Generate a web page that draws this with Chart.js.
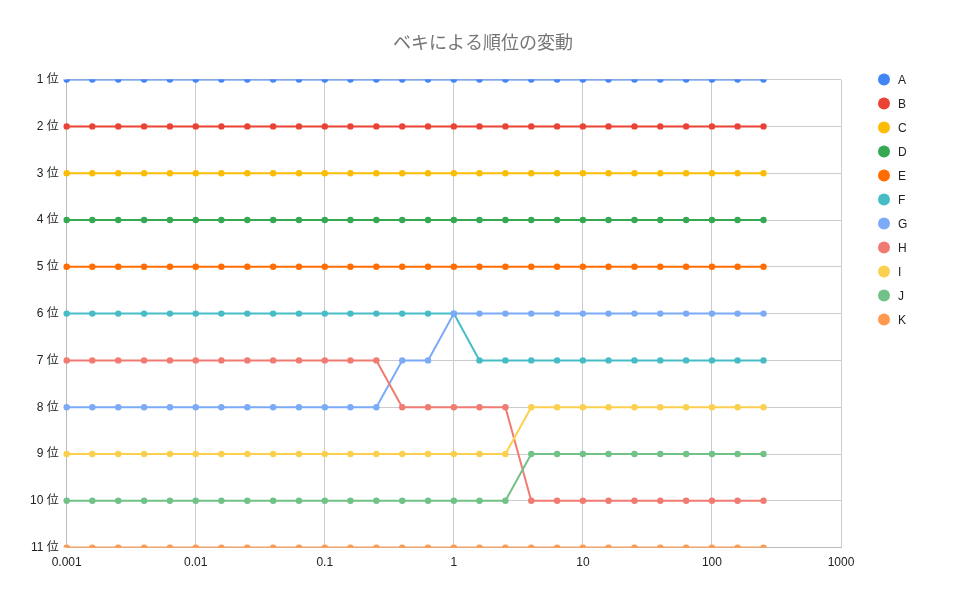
<!DOCTYPE html>
<html>
<head>
<meta charset="utf-8">
<script src="https://cdn.jsdelivr.net/npm/chart.js@4"></script>
<style>
  html, body { margin: 0; padding: 0; background: #fff; }
  #wrap { width: 966px; height: 598px; }
</style>
</head>
<body>
<div id="wrap"><canvas id="rankChart" width="966" height="598"></canvas></div>
<script>
(() => {
    // べき (x) の値
    const powers = [0.001, 0.00158, 0.00251, 0.00398, 0.00631, 0.01, 0.0158, 0.0251, 0.0398, 0.0631,
        0.1, 0.158, 0.251, 0.398, 0.631, 1, 1.58, 2.51, 3.98, 6.31,
        10, 15.8, 25.1, 39.8, 63.1, 100, 158, 251];
    const xTicks = [0.001, 0.01, 0.1, 1, 10, 100, 1000];
    const rankTicks = [1, 2, 3, 4, 5, 6, 7, 8, 9, 10, 11];

    const seriesNames = ["A", "B", "C", "D", "E", "F", "G", "H", "I", "J", "K"];
    const colors = ["#4285F4", "#EA4335", "#FBBC04", "#34A853", "#FF6D01", "#46BDC6",
        "#7BAAF7", "#F07B72", "#FCD04F", "#71C287", "#FF994D"];

    // 順位
    const rankA = [1, 1, 1, 1, 1, 1, 1, 1, 1, 1, 1, 1, 1, 1, 1, 1, 1, 1, 1, 1, 1, 1, 1, 1, 1, 1, 1, 1];
    const rankB = [2, 2, 2, 2, 2, 2, 2, 2, 2, 2, 2, 2, 2, 2, 2, 2, 2, 2, 2, 2, 2, 2, 2, 2, 2, 2, 2, 2];
    const rankC = [3, 3, 3, 3, 3, 3, 3, 3, 3, 3, 3, 3, 3, 3, 3, 3, 3, 3, 3, 3, 3, 3, 3, 3, 3, 3, 3, 3];
    const rankD = [4, 4, 4, 4, 4, 4, 4, 4, 4, 4, 4, 4, 4, 4, 4, 4, 4, 4, 4, 4, 4, 4, 4, 4, 4, 4, 4, 4];
    const rankE = [5, 5, 5, 5, 5, 5, 5, 5, 5, 5, 5, 5, 5, 5, 5, 5, 5, 5, 5, 5, 5, 5, 5, 5, 5, 5, 5, 5];
    const rankF = [6, 6, 6, 6, 6, 6, 6, 6, 6, 6, 6, 6, 6, 6, 6, 6, 7, 7, 7, 7, 7, 7, 7, 7, 7, 7, 7, 7];
    const rankG = [8, 8, 8, 8, 8, 8, 8, 8, 8, 8, 8, 8, 8, 7, 7, 6, 6, 6, 6, 6, 6, 6, 6, 6, 6, 6, 6, 6];
    const rankH = [7, 7, 7, 7, 7, 7, 7, 7, 7, 7, 7, 7, 7, 8, 8, 8, 8, 8, 10, 10, 10, 10, 10, 10, 10, 10, 10, 10];
    const rankI = [9, 9, 9, 9, 9, 9, 9, 9, 9, 9, 9, 9, 9, 9, 9, 9, 9, 9, 8, 8, 8, 8, 8, 8, 8, 8, 8, 8];
    const rankJ = [10, 10, 10, 10, 10, 10, 10, 10, 10, 10, 10, 10, 10, 10, 10, 10, 10, 10, 9, 9, 9, 9, 9, 9, 9, 9, 9, 9];
    const rankK = [11, 11, 11, 11, 11, 11, 11, 11, 11, 11, 11, 11, 11, 11, 11, 11, 11, 11, 11, 11, 11, 11, 11, 11, 11, 11, 11, 11];

    const allRanks = [rankA, rankB, rankC, rankD, rankE, rankF, rankG, rankH, rankI, rankJ, rankK];

    const FONT = "Arial, 'Liberation Sans', 'Noto Sans CJK JP', sans-serif";

    const datasets = allRanks.map((ranks, i) => ({
        label: seriesNames[i],
        data: powers.map((x, k) => ({ x, y: ranks[k] })),
        borderColor: colors[i],
        backgroundColor: colors[i],
        pointBackgroundColor: colors[i],
        pointBorderWidth: 0,
        pointRadius: 3.2,
        borderWidth: 2,
        tension: 0,
        // 上下だけプロット枠で切る
        clip: { left: 5, right: 5, top: 0, bottom: 0 },
        order: allRanks.length - i
    }));

    // 凡例 (右側、プロット上端から 24px 間隔)
    const sideLegend = {
        id: "sideLegend",
        afterDraw(chart) {
            const { ctx, chartArea } = chart;
            ctx.save();
            ctx.font = "12px " + FONT;
            ctx.textBaseline = "middle";
            ctx.textAlign = "left";
            chart.data.datasets.forEach((ds, i) => {
                const cx = chartArea.right + 43;
                const cy = chartArea.top + i * 24;
                ctx.beginPath();
                ctx.arc(cx, cy, 6, 0, Math.PI * 2);
                ctx.fillStyle = ds.borderColor;
                ctx.fill();
                ctx.fillStyle = "#222";
                ctx.fillText(ds.label, cx + 14, cy + 1);
            });
            ctx.restore();
        }
    };

    const ctx = document.getElementById("rankChart").getContext("2d");
    new Chart(ctx, {
        type: "line",
        data: { datasets },
        plugins: [sideLegend],
        options: {
            responsive: false,
            animation: false,
            events: [],
            layout: { padding: { left: 22, right: 22, top: 0, bottom: 20 } },
            plugins: {
                title: {
                    display: true,
                    text: "ベキによる順位の変動",
                    color: "#757575",
                    font: { family: FONT, size: 18, weight: "normal" },
                    padding: { top: 33, bottom: 25 }
                },
                legend: { display: false },
                tooltip: { enabled: false }
            },
            scales: {
                x: {
                    type: "logarithmic",
                    min: 0.001,
                    max: 1000,
                    afterBuildTicks: (axis) => { axis.ticks = xTicks.map(v => ({ value: v })); },
                    afterFit: (axis) => { axis.paddingRight = 125; },
                    ticks: {
                        callback: (v) => String(v),
                        color: "#222",
                        font: { family: FONT, size: 12 },
                        padding: 8,
                        maxRotation: 0,
                        autoSkip: false
                    },
                    grid: { color: "#cccccc", drawTicks: false },
                    border: { color: "#bbbbbb" }
                },
                y: {
                    type: "linear",
                    reverse: true,
                    min: 1,
                    max: 11,
                    afterBuildTicks: (axis) => { axis.ticks = rankTicks.map(v => ({ value: v })); },
                    ticks: {
                        callback: (v) => v + " 位",
                        color: "#222",
                        font: { family: FONT, size: 12 },
                        padding: 8
                    },
                    grid: { color: "#cccccc", drawTicks: false },
                    border: { color: "#bbbbbb" }
                }
            }
        }
    });
})();
</script>
</body>
</html>
